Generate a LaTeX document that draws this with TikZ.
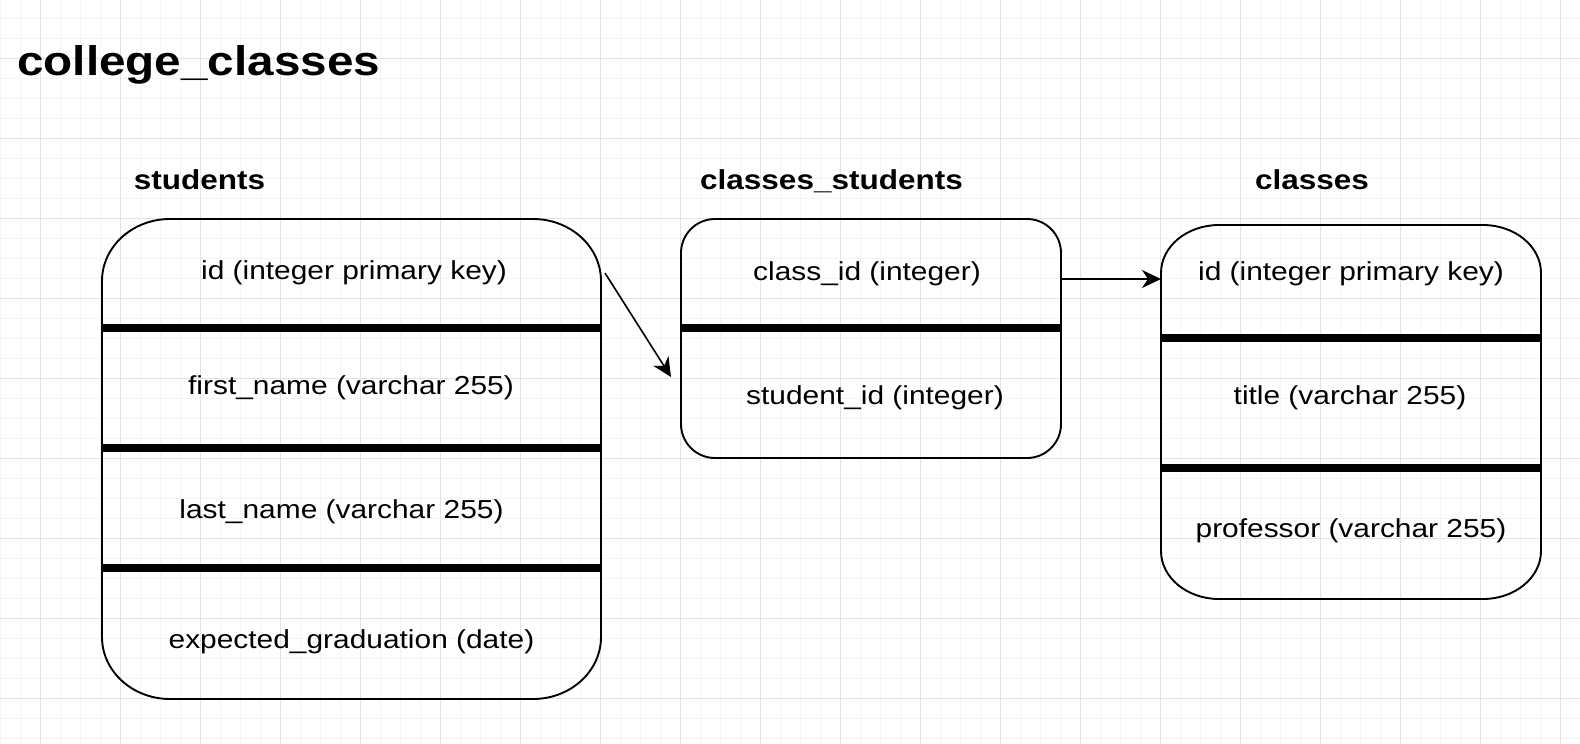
\documentclass[tikz,border=0pt]{standalone}
\usepackage{fontspec}
\setmainfont{Liberation Sans}[FakeStretch=1.15]
\usetikzlibrary{arrows.meta}
\definecolor{gridminor}{HTML}{F4F4F4}
\definecolor{gridmajor}{HTML}{E2E2E2}
\tikzset{
  minorgrid/.style={draw=gridminor, line width=0.5pt},
  majorgrid/.style={draw=gridmajor, line width=0.5pt},
  boxline/.style={draw=black, line width=0.95pt},
  sepline/.style={draw=black, line width=3.8pt},
  rowtext/.style={font=\fontsize{13}{15}\selectfont, anchor=base, inner sep=0pt},
  tabletitle/.style={font=\fontsize{13.7}{16}\selectfont\bfseries, anchor=base, inner sep=0pt},
  boxnode/.style={inner sep=0pt, outer sep=0pt, draw=none},
  conn/.style={draw=black, line width=0.8pt, -{Stealth[length=9.5pt, width=9pt, inset=3pt]}}
}
\newcommand\erbox[3]{%
  \draw[boxline] ([xshift=#2]#1.north west) -- ([xshift=-#2]#1.north east)
    arc[start angle=90,end angle=0,x radius=#2,y radius=#3]
    -- ([yshift=#3]#1.south east)
    arc[start angle=0,end angle=-90,x radius=#2,y radius=#3]
    -- ([xshift=#2]#1.south west)
    arc[start angle=270,end angle=180,x radius=#2,y radius=#3]
    -- ([yshift=-#3]#1.north west)
    arc[start angle=180,end angle=90,x radius=#2,y radius=#3] -- cycle;}
\begin{document}
\begin{tikzpicture}[x=0.5pt, y=-0.5pt]
\fill[white] (0,0) rectangle (1580,744);
\useasboundingbox (0,0) rectangle (1580,744);
% grid
\foreach \gx in {0,20,...,1580} \draw[minorgrid] (\gx,0) -- (\gx,744);
\foreach \gy in {18,38,...,744} \draw[minorgrid] (0,\gy) -- (1580,\gy);
\foreach \gx in {40,120,...,1580} \draw[majorgrid] (\gx,0) -- (\gx,744);
\foreach \gy in {58,138,...,744} \draw[majorgrid] (0,\gy) -- (1580,\gy);

% title
\node[font=\fontsize{20.7}{23}\selectfont\bfseries, anchor=base west, inner sep=0pt] (title) at (17,75) {college\_classes};

% table labels
\node[tabletitle] (lstudents) at (199.5,189) {students};
\node[tabletitle] (lcs) at (831.5,189) {classes\_students};
\node[tabletitle] (lclasses) at (1312,189) {classes};

% boxes
\node[boxnode, minimum width=249.5pt, minimum height=240pt] (students) at (351.5,459) {};
\node[boxnode, minimum width=190pt, minimum height=119.5pt] (cs) at (871,338.5) {};
\node[boxnode, minimum width=190pt, minimum height=187pt] (classes) at (1351,412) {};

\erbox{students}{34pt}{31pt}
\erbox{cs}{17pt}{17pt}
\erbox{classes}{29pt}{24pt}

% separators
\foreach \sy in {328,448,568} \draw[sepline] (students.west |- 0,\sy) -- (students.east |- 0,\sy);
\draw[sepline] (cs.west |- 0,328) -- (cs.east |- 0,328);
\foreach \sy in {338,468} \draw[sepline] (classes.west |- 0,\sy) -- (classes.east |- 0,\sy);

% row texts
\node[rowtext] (s1) at (354,279) {id (integer primary key)};
\node[rowtext] (s2) at (351,394) {first\_name (varchar 255)};
\node[rowtext] (s3) at (341.5,518) {last\_name (varchar 255)};
\node[rowtext] (s4) at (351.5,648) {expected\_graduation (date)};
\node[rowtext] (c1) at (867,280) {class\_id (integer)};
\node[rowtext] (c2) at (875,404) {student\_id (integer)};
\node[rowtext] (k1) at (1351,280) {id (integer primary key)};
\node[rowtext] (k2) at (1350,404) {title (varchar 255)};
\node[rowtext] (k3) at (1351,537) {professor (varchar 255)};

% connectors
\coordinate (a1s) at (605,273);
\coordinate (a1e) at (671,377);
\draw[conn] (a1s) -- (a1e);
\draw[conn] (cs.east |- 0,279) -- (classes.west |- 0,279);
\end{tikzpicture}
\end{document}
